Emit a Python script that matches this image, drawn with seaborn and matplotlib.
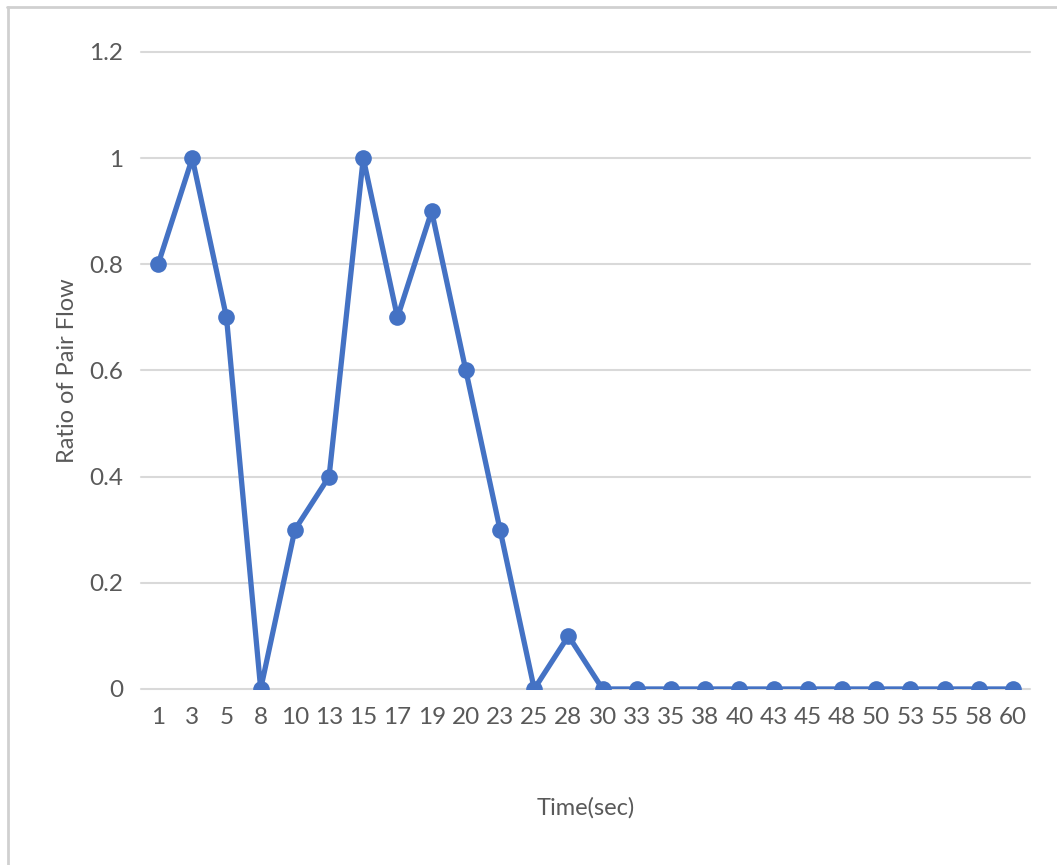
import matplotlib
matplotlib.use("Agg")
import matplotlib.pyplot as plt
from matplotlib.lines import Line2D
import seaborn as sns
import pandas as pd

# Sampling times (categorical x axis) and measured ratio of pair flow
time_labels = ["1", "3", "5", "8", "10", "13", "15", "17", "19", "20", "23", "25", "28",
               "30", "33", "35", "38", "40", "43", "45", "48", "50", "53", "55", "58", "60"]
ratio_values = [0.8, 1.0, 0.7, 0.0, 0.3, 0.4, 1.0, 0.7, 0.9, 0.6, 0.3, 0.0, 0.1,
                0.0, 0.0, 0.0, 0.0, 0.0, 0.0, 0.0, 0.0, 0.0, 0.0, 0.0, 0.0, 0.0]
y_ticks = [0, 0.2, 0.4, 0.6, 0.8, 1.0, 1.2]
y_tick_labels = ["0", "0.2", "0.4", "0.6", "0.8", "1", "1.2"]

df = pd.DataFrame({"pos": range(len(time_labels)), "ratio": ratio_values})

sns.set_theme(style="white")
plt.rcParams["font.family"] = ["Lato", "DejaVu Sans"]

text_color = "#595959"
line_color = "#4472C4"
grid_color = "#D9D9D9"

fig = plt.figure(figsize=(10.57, 8.65), dpi=100)
ax = fig.add_axes([0.1334, 0.2035, 0.8411, 0.7364])

sns.lineplot(data=df, x="pos", y="ratio", ax=ax, color=line_color, linewidth=3.8,
             marker="o", markersize=12, markeredgewidth=0, zorder=3)

ax.set_xlim(-0.5, len(time_labels) - 0.5)
ax.set_ylim(0, 1.2)
ax.set_xticks(range(len(time_labels)))
ax.set_xticklabels(time_labels)
ax.set_yticks(y_ticks)
ax.set_yticklabels(y_tick_labels)
ax.tick_params(axis="both", length=0, labelsize=17.5, labelcolor=text_color)
ax.tick_params(axis="x", pad=13)
ax.tick_params(axis="y", pad=13)

for yv in y_ticks:
    ax.axhline(yv, color=grid_color, linewidth=1.5, zorder=1, clip_on=False)

for s in ax.spines.values():
    s.set_visible(False)

ax.set_xlabel("Time(sec)", fontsize=17, color=text_color, labelpad=50)
ax.set_ylabel("Ratio of Pair Flow", fontsize=17, color=text_color, labelpad=8)

# light frame at the top and left edges of the figure
fig.add_artist(Line2D([0.007, 1.0], [0.992, 0.992], transform=fig.transFigure,
                      color="#D0D0D0", linewidth=2))
fig.add_artist(Line2D([0.008, 0.008], [0.0, 0.992], transform=fig.transFigure,
                      color="#D0D0D0", linewidth=2))

fig.savefig("out.png", dpi=100)
